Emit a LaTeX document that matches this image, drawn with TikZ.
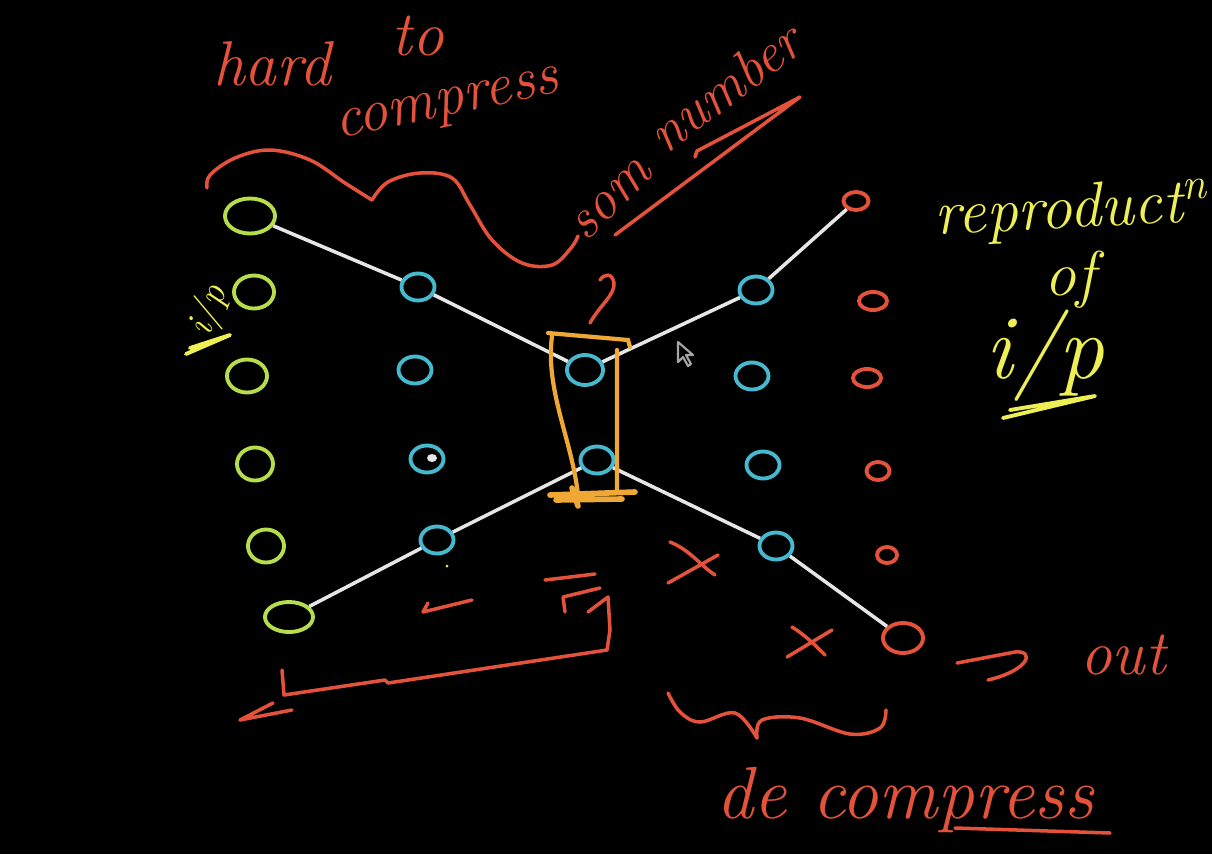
\documentclass[tikz,border=0pt]{standalone}
\usepackage{tikz}
\usetikzlibrary{shapes.geometric}

\definecolor{inkred}{HTML}{E4523C}
\definecolor{inkgreen}{HTML}{B6DE4C}
\definecolor{inkcyan}{HTML}{46B9CF}
\definecolor{inkyellow}{HTML}{EEEE55}
\definecolor{inkorange}{HTML}{EFA834}
\definecolor{inkwhite}{HTML}{E6E6E6}

\tikzset{
  unit/.style={ellipse, draw, line width=1.1pt, inner sep=0pt},
  gunit/.style={unit, draw=inkgreen, minimum width=0.40cm, minimum height=0.33cm},
  cunit/.style={unit, draw=inkcyan, minimum width=0.33cm, minimum height=0.27cm},
  runit/.style={unit, draw=inkred, minimum width=0.25cm, minimum height=0.18cm},
  link/.style={draw=inkwhite, line width=1pt},
  ink/.style={draw=inkred, line width=1pt, line cap=round, line join=round},
  yink/.style={draw=inkyellow, line width=1.1pt, line cap=round, line join=round},
  note/.style={text=inkred, font=\itshape\fontsize{18}{20}\selectfont, inner sep=0pt},
  ynote/.style={note, text=inkyellow}
}

\begin{document}
\begin{tikzpicture}[x=0.01cm, y=-0.01cm]
  \fill[black] (0,0) rectangle (1212,854);
  \useasboundingbox (0,0) rectangle (1212,854);

  % input layer
  \node[gunit, minimum width=0.50cm, minimum height=0.35cm] (g1) at (250,216) {};
  \node[gunit] (g2) at (254,292) {};
  \node[gunit] (g3) at (247,376) {};
  \node[gunit, minimum width=0.36cm] (g4) at (255,464) {};
  \node[gunit, minimum width=0.36cm] (g5) at (266,546) {};
  \node[gunit, minimum width=0.48cm, minimum height=0.30cm] (g6) at (289,617) {};

  % encoder
  \node[cunit] (b1) at (418,287) {};
  \node[cunit] (b2) at (415,370) {};
  \node[cunit] (b3) at (427,459) {};
  \node[cunit] (b4) at (437,540) {};

  % bottleneck
  \node[cunit, minimum width=0.36cm, minimum height=0.30cm] (m1) at (585,370) {};
  \node[cunit] (m2) at (597,460) {};

  % decoder
  \node[cunit] (d1) at (756,290) {};
  \node[cunit] (d2) at (752,376) {};
  \node[cunit] (d3) at (763,465) {};
  \node[cunit] (d4) at (776,546) {};

  % output layer
  \node[runit] (o1) at (856,201) {};
  \node[runit, minimum width=0.28cm] (o2) at (873,301) {};
  \node[runit, minimum width=0.28cm] (o3) at (867,378) {};
  \node[runit, minimum width=0.23cm] (o4) at (878,471) {};
  \node[runit, minimum width=0.20cm, minimum height=0.16cm] (o5) at (887,555) {};
  \node[runit, minimum width=0.40cm, minimum height=0.30cm] (o6) at (903,638) {};

  \draw[link] (g1) -- (b1) -- (m1) -- (d1) -- (o1);
  \draw[link] (g6) -- (b4) -- (m2) -- (d4) -- (o6);

  % small marks inside
  \fill[inkwhite] (432,458) ellipse (5 and 4);
  \fill[inkyellow] (447,566) circle (1.5);

  % bottleneck box
  \draw[draw=inkorange, line width=1.2pt, line cap=round]
    (548,333) -- (628,340) -- (630,347)
    (552,336) .. controls (545,390) and (572,440) .. (578,495)
    (617,350) -- (617,492);
  \draw[draw=inkorange, line width=1.6pt, line cap=round]
    (550,495) -- (635,492) (556,500) -- (622,499) (572,488) -- (578,506);
  \draw[ink] (590,323) .. controls (600,305) and (615,295) .. (614,283)
    .. controls (612,272) and (604,274) .. (600,280);

  % top brace
  \draw[ink] plot[smooth, tension=0.6] coordinates {(207,188) (210,175) (235,158) (270,150) (310,160) (345,183) (372,200)};
  \draw[ink] plot[smooth, tension=0.6] coordinates {(372,200) (388,182) (420,173) (452,178) (470,205) (492,240) (522,263) (552,265) (571,248) (578,236)};

  \node[note] (hard) at (272,64) {hard};
  \node[note] (to) at (418,36) {to};
  \node[note, rotate=12, font=\itshape\fontsize{17}{19}\selectfont] (comp) at (448,108) {compress};
  \node[note, rotate=45, font=\itshape\fontsize{16}{18}\selectfont] (som) at (612,200) {som};
  \node[note, rotate=37, font=\itshape\fontsize{16}{18}\selectfont] (num) at (724,87) {number};
  \draw[ink] (615,235) -- (800,97) -- (697,151) -- (695,157);

  % right side labels
  \node[ynote, rotate=3] (repro) at (1072,212) {reproduct\textsuperscript{n}};
  \node[ynote] (of) at (1070,280) {of};
  \node[ynote, font=\itshape\fontsize{26}{28}\selectfont] (ip) at (1045,356) {i/p};
  \draw[yink] (1003,418) -- (1095,396) -- (1010,410);

  % left label
  \node[ynote, rotate=70, font=\itshape\fontsize{11}{12}\selectfont] (ipl) at (209,311) {i/p};
  \draw[yink] (186,354) -- (230,335) -- (190,348);

  % bottom brace
  \draw[ink] (273,703) -- (240,720) -- (292,710);
  \draw[ink] (282,670) -- (284,695) -- (385,680) -- (388,683) -- (607,650) -- (610,630) -- (608,597) -- (588,612);
  \draw[ink] (565,612) -- (563,597) -- (600,588);
  \draw[ink] (545,580) -- (595,574);
  \draw[ink] (428,603) -- (423,612) -- (472,600);

  % crosses
  \draw[ink] (668,583) -- (718,555) (670,542) .. controls (690,550) and (700,565) .. (715,575);
  \draw[ink] (787,657) -- (832,630) (792,627) .. controls (805,635) and (815,645) .. (825,655);

  % output
  \draw[ink] (957,663) -- (1015,652) .. controls (1035,650) and (1030,670) .. (988,680);
  \node[note] (out) at (1123,655) {out};

  % decoder brace
  \draw[ink] plot[smooth, tension=0.6] coordinates {(668,693) (680,712) (700,722) (735,713) (757,738)};
  \draw[ink] plot[smooth, tension=0.6] coordinates {(757,738) (762,720) (800,718) (850,734) (880,728) (886,710)};
  \node[note, font=\itshape\fontsize{21}{24}\selectfont] (dec) at (905,800) {de compress};
  \draw[ink] (955,828) -- (1110,833);

  % cursor
  \draw[draw=gray!70, line width=0.6pt, line join=round] (678,342) -- (678,362) -- (683,357) -- (688,366) -- (691,364) -- (686,355) -- (693,355) -- cycle;
\end{tikzpicture}
\end{document}
